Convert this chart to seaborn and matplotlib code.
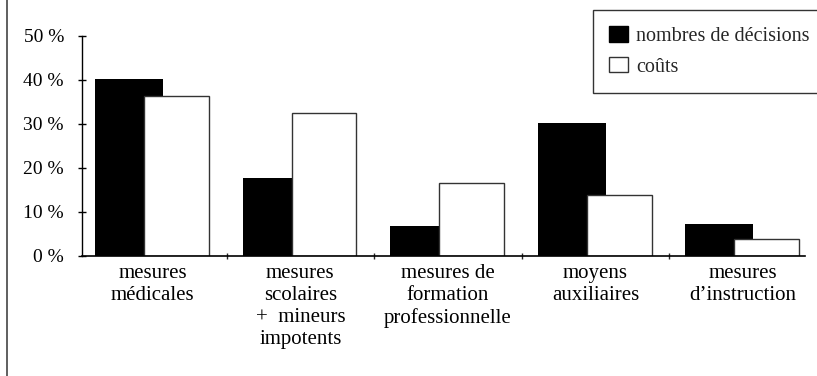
import seaborn as sns
import pandas as pd
import matplotlib.pyplot as plt
from matplotlib.patches import Patch
from matplotlib.lines import Line2D

# data (percent)
categories = ["mesures\nmédicales",
              "mesures\nscolaires\n+  mineurs\nimpotents",
              "mesures de\nformation\nprofessionnelle",
              "moyens\nauxiliaires",
              "mesures\nd\u2019instruction"]
decisions = [40.2, 17.7, 6.8, 30.2, 7.3]
couts = [36.4, 32.5, 16.6, 13.9, 3.9]
series = ["nombres de décisions", "coûts"]
yticks = [0, 10, 20, 30, 40, 50]

df = pd.DataFrame({
    "cat": categories * 2,
    "val": decisions + couts,
    "serie": [series[0]] * len(categories) + [series[1]] * len(categories),
})

sns.set_style("white")
plt.rcParams['font.family'] = ['Liberation Serif', 'DejaVu Serif']

fig = plt.figure(figsize=(8.17, 3.76), dpi=100)
ax = fig.add_axes([82 / 817, 1 - 256 / 376, (805 - 82) / 817, 220 / 376])

sns.barplot(data=df, x="cat", y="val", hue="serie", hue_order=series,
            palette={series[0]: "black", series[1]: "white"},
            width=0.64, legend=False, ax=ax, saturation=1)

# bars overlap in the original: widen them around their centres
for cont, w, ec, lw in zip(ax.containers, [0.46, 0.44], ["black", "#333333"], [0, 1.0]):
    for p in cont:
        c = p.get_x() + p.get_width() / 2
        p.set_width(w)
        p.set_x(c - w / 2)
        p.set_edgecolor(ec)
        p.set_linewidth(lw)

ax.set_xlim(-0.48, 4.42)
ax.set_ylim(0, 50)
ax.set_xlabel("")
ax.set_ylabel("")
ax.set_yticks(yticks)
ax.set_yticklabels([f"{v} %" for v in yticks])
ax.tick_params(axis="y", direction="inout", length=6, width=1, pad=10,
               labelsize=14, colors="black", left=True)
ax.set_xticks(range(len(categories)))
ax.set_xticklabels(categories, linespacing=1.2)
ax.tick_params(axis="x", length=0, pad=6, labelsize=15, colors="black")
ax.set_xticks([0.5, 1.5, 2.5, 3.5], minor=True)
ax.tick_params(axis="x", which="minor", direction="inout", length=5, width=1, bottom=True)

sns.despine(ax=ax)
ax.spines["left"].set_color("black")
ax.spines["bottom"].set_color("black")
ax.spines["left"].set_linewidth(1)
ax.spines["bottom"].set_linewidth(1.2)

# legend box in the upper right corner (runs off the right edge, as in the scan)
handles = [Patch(facecolor="black", edgecolor="black"),
           Patch(facecolor="white", edgecolor="#333333", linewidth=1)]
leg = fig.legend(handles, series, loc="upper left", bbox_to_anchor=(593 / 817, 1 - 10 / 376),
                 frameon=True, fancybox=False, fontsize=14.5, handlelength=0.95,
                 handleheight=0.8, handletextpad=0.38, labelspacing=0.55,
                 borderpad=0.8, borderaxespad=0)
leg.get_frame().set_edgecolor("black")
leg.get_frame().set_linewidth(1)

# left frame line of the original figure
fig.add_artist(Line2D([7 / 817, 7 / 817], [0, 1], color="#444444", linewidth=1.2))

fig.savefig("out.png", dpi=100)
